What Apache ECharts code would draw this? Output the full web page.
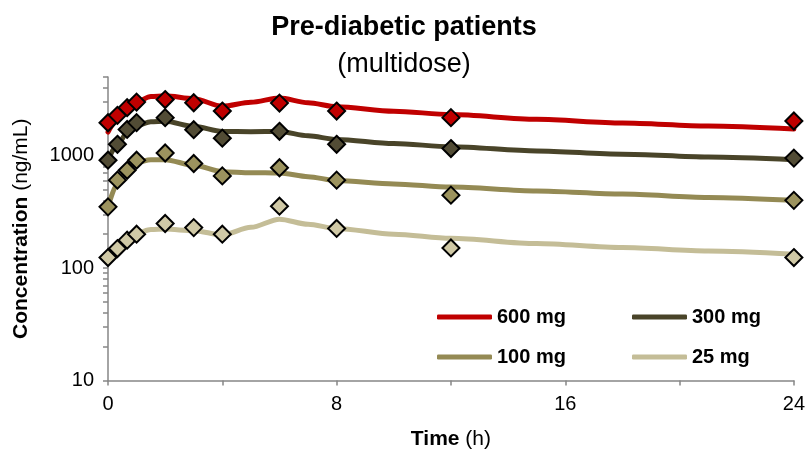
<!DOCTYPE html>
<html>
<head>
<meta charset="utf-8">
<script src="https://cdn.jsdelivr.net/npm/echarts@6/dist/echarts.min.js"></script>
<style>
  html, body { margin: 0; padding: 0; background: #fff; }
  #chart { width: 808px; height: 456px; }
</style>
</head>
<body>
<div id="chart"></div>
<script>
// observed points (h, ng/mL)
const timeObs = [0, 0.33, 0.67, 1, 2, 3, 4, 6, 8, 12, 24];
const obs600 = [1960, 2280, 2670, 2990, 3150, 2950, 2490, 2930, 2490, 2175, 2030];
const obs300 = [910, 1260, 1710, 1965, 2175, 1700, 1430, 1645, 1260, 1155, 950];
const obs100 = [350, 605, 740, 910, 1055, 850, 660, 780, 605, 445, 400];
const obs25 = [124, 149, 177, 200, 249, 229, 200, 355, 225, 151, 124];

// fitted curves
const timeFit = [0, 0.33, 0.67, 1, 1.5, 2, 3, 4, 5, 6, 7, 8, 10, 12, 15, 18, 21, 24];
const fit600 = [1620, 2100, 2600, 3000, 3350, 3400, 3200, 2750, 2980, 3250, 2950, 2720, 2480, 2320, 2100, 1950, 1830, 1720];
const fit300 = [910, 1250, 1600, 1850, 2000, 2020, 1820, 1640, 1630, 1640, 1500, 1390, 1280, 1200, 1100, 1030, 970, 920];
const fit100 = [350, 560, 750, 870, 920, 920, 820, 720, 705, 700, 650, 600, 560, 525, 485, 455, 425, 400];
const fit25 = [118, 150, 180, 205, 220, 222, 215, 197, 230, 272, 245, 225, 200, 184, 165, 152, 142, 133];

const doseNames = ['600 mg', '300 mg', '100 mg', '25 mg'];
const lineColors = ['#C00000', '#494429', '#948A54', '#C4BD97'];
const markColors = ['#C00000', '#524C35', '#9C935E', '#D0C9A6'];

// y axis ticks (labels on decades, ticks on every log step)
const yLabels = [10, 100, 1000];
const yTicks = [10, 20, 30, 40, 50, 60, 70, 80, 90, 100, 200, 300, 400, 500, 600, 700, 800, 900, 1000, 2000, 3000, 4000, 5000];

const fits = [fit600, fit300, fit100, fit25];
const obs = [obs600, obs300, obs100, obs25];

const pair = (xs, ys) => xs.map((x, i) => [x, ys[i]]);

const chart = echarts.init(document.getElementById('chart'));

const fontFam = '"Liberation Sans", Arial, sans-serif';
const axisGray = '#868686';

let series = [];
fits.forEach((f, i) => {
  series.push({
    name: doseNames[i],
    type: 'line',
    data: pair(timeFit, f),
    smooth: 0.3,
    smoothMonotone: 'x',
    showSymbol: false,
    lineStyle: { color: lineColors[i], width: 5, cap: 'round', join: 'round' },
    itemStyle: { color: lineColors[i] },
    z: 2
  });
});
obs.forEach((o, i) => {
  series.push({
    name: doseNames[i],
    type: 'scatter',
    data: pair(timeObs, o),
    symbol: 'diamond',
    symbolSize: 17,
    itemStyle: { color: markColors[i], borderColor: '#000', borderWidth: 2, opacity: 1 },
    z: 3
  });
});

// one legend per entry so the 2x2 block sits like the original
const legendPos = [[437, 307], [632, 307], [437, 347], [632, 347]];
const legends = doseNames.map((n, i) => ({
  data: [{ name: n, icon: 'roundRect' }],
  left: legendPos[i][0],
  top: legendPos[i][1],
  padding: 0,
  itemWidth: 55,
  itemHeight: 5,
  itemGap: 0,
  selectedMode: false,
  textStyle: { fontFamily: fontFam, fontWeight: 'bold', fontSize: 20, color: '#000' }
}));

const option = {
  animation: false,
  backgroundColor: '#fff',
  title: [
    {
      text: 'Pre-diabetic patients',
      left: 'center',
      top: 9,
      textStyle: { fontFamily: fontFam, fontWeight: 'bold', fontSize: 27, color: '#000' }
    },
    {
      text: '(multidose)',
      left: 'center',
      top: 46,
      textStyle: { fontFamily: fontFam, fontWeight: 'normal', fontSize: 27, color: '#000' }
    }
  ],
  legend: legends,
  grid: { left: 108, right: 13, top: 77, bottom: 75.5, containLabel: false },
  xAxis: {
    type: 'value',
    min: 0,
    max: 24,
    interval: 4,
    name: '{b|Time} (h)',
    nameLocation: 'middle',
    nameGap: 48,
    nameTextStyle: {
      fontFamily: fontFam, fontSize: 21, color: '#000',
      rich: { b: { fontFamily: fontFam, fontSize: 21, fontWeight: 'bold', color: '#000' } }
    },
    axisLine: { onZero: false, lineStyle: { color: axisGray, width: 1.5 } },
    axisTick: { length: 5, lineStyle: { color: axisGray, width: 1.5 } },
    axisLabel: {
      fontFamily: fontFam, fontSize: 20, color: '#000', margin: 14,
      formatter: v => (v % 8 === 0 ? String(v) : '')
    },
    splitLine: { show: false }
  },
  yAxis: {
    type: 'log',
    logBase: 10,
    min: 10,
    max: 5000,
    name: '{b|Concentration} (ng/mL)',
    nameLocation: 'middle',
    nameRotate: 90,
    nameGap: 76,
    nameTextStyle: {
      fontFamily: fontFam, fontSize: 21, color: '#000',
      rich: { b: { fontFamily: fontFam, fontSize: 21, fontWeight: 'bold', color: '#000' } }
    },
    axisLine: { show: true, lineStyle: { color: axisGray, width: 1.5 } },
    axisTick: { show: true, length: 5, customValues: yTicks, lineStyle: { color: axisGray, width: 1.5 } },
    axisLabel: {
      fontFamily: fontFam, fontSize: 20, color: '#000', margin: 14,
      customValues: yLabels,
      formatter: v => String(Math.round(v))
    },
    splitLine: { show: false }
  },
  series: series
};

chart.setOption(option);
</script>
</body>
</html>
